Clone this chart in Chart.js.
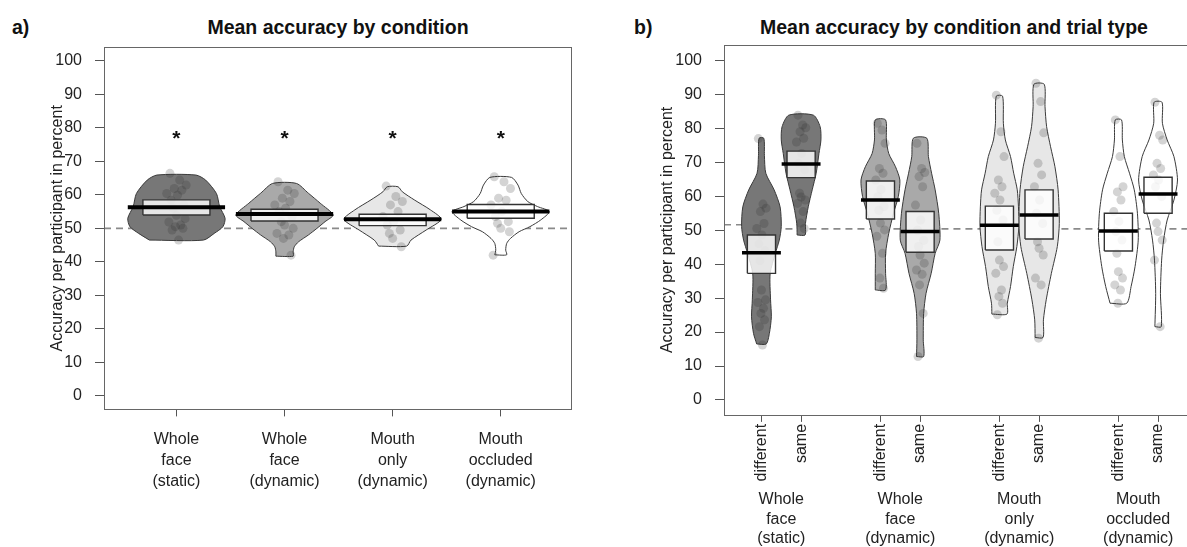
<!DOCTYPE html>
<html>
<head>
<meta charset="utf-8">
<script src="https://cdn.jsdelivr.net/npm/chart.js@4.4.1/dist/chart.umd.min.js"></script>
<style>
html, body { margin: 0; padding: 0; background: #fff; overflow: hidden; }
#wrap { position: relative; width: 1187px; height: 547px; overflow: hidden; font-family: "Liberation Sans", Arial, sans-serif; }
canvas { position: absolute; top: 0; }
#c1 { left: 0; }
#c2 { left: 600px; }
.hd { position: absolute; top: 15px; font-weight: bold; font-size: 19.5px; line-height: 24px; color: #111; white-space: nowrap; }
.mid { transform: translateX(-50%); }
</style>
</head>
<body>
<div id="wrap">
  <div class="hd" style="left:12px">a)</div>
  <div class="hd mid" style="left:338px">Mean accuracy by condition</div>
  <div class="hd" style="left:634px">b)</div>
  <div class="hd mid" style="left:954px">Mean accuracy by condition and trial type</div>
  <canvas id="c1" width="600" height="547"></canvas>
  <canvas id="c2" width="600" height="547"></canvas>
</div>
<script>
// ---- data ----
const conditions = [['Whole', 'face', '(static)'], ['Whole', 'face', '(dynamic)'],
                    ['Mouth', 'only', '(dynamic)'], ['Mouth', 'occluded', '(dynamic)']];
const trialTypes = ['different', 'same'];
const yTicks = [0, 10, 20, 30, 40, 50, 60, 70, 80, 90, 100];
const chanceLevel = 50;

// panel a) : one entry per condition
const condMean = [56.3, 54.3, 52.7, 55.0];
const condLow = [54.0, 52.2, 50.8, 53.0];
const condHigh = [58.5, 55.7, 54.2, 57.1];
const condStars = [77.8, 77.8, 77.8, 77.8];
const condPoints = [
  [66.4, 64.4, 62.9, 61.9, 61.4, 60.4, 59.9, 58.4, 57.0, 56.0, 53.9, 52.9, 51.9, 51.0, 50.5, 50.0, 49.5, 46.5],
  [63.9, 61.4, 60.4, 59.0, 58.0, 57.0, 56.0, 55.0, 53.5, 52.0, 51.0, 50.0, 48.5, 48.0, 47.0, 42.0],
  [62.6, 59.5, 58.0, 57.0, 55.0, 53.5, 52.0, 51.0, 49.5, 48.5, 47.0, 44.5],
  [65.4, 63.9, 61.9, 59.0, 58.4, 57.0, 55.0, 53.5, 52.0, 51.5, 50.0, 49.0, 42.0]
];
// violin outlines: levels (accuracy) and half widths (in category units)
const condViolinY = [
  [46.5, 48.5, 50.5, 53.0, 56.5, 60.4, 64.4, 65.9],
  [41.7, 43.0, 44.5, 46.0, 48.0, 50.0, 52.0, 54.0, 57.5, 60.5, 63.4],
  [44.7, 46.5, 49.5, 52.7, 55.5, 58.5, 60.9, 62.4],
  [42.1, 43.5, 45.5, 47.0, 49.0, 50.5, 52.5, 55.0, 56.5, 58.0, 60.4, 62.9, 65.2]
];
const condViolinW = [
  [0.25, 0.35, 0.43, 0.45, 0.40, 0.37, 0.27, 0.18],
  [0.08, 0.08, 0.09, 0.13, 0.22, 0.30, 0.375, 0.45, 0.33, 0.22, 0.11],
  [0.13, 0.17, 0.31, 0.45, 0.35, 0.20, 0.09, 0.05],
  [0.055, 0.046, 0.055, 0.09, 0.17, 0.27, 0.37, 0.45, 0.34, 0.25, 0.19, 0.16, 0.10]
];

// panel b) : condition x trial type (different, same, different, same, ...)
const trialMean = [43.4, 69.5, 58.9, 49.6, 51.5, 54.5, 49.8, 60.7];
const trialLow = [37.3, 65.5, 53.3, 43.5, 44.2, 47.4, 43.9, 55.0];
const trialHigh = [48.6, 73.3, 64.5, 55.5, 57.1, 61.9, 55.0, 65.6];
const trialPoints = [
  [77.0, 57.7, 56.5, 55.5, 52.0, 50.5, 48.6, 46.0, 44.0, 41.0, 32.4, 29.5, 28.7, 27.0, 25.5, 23.6, 21.6, 16.2],
  [83.9, 81.0, 80.2, 79.0, 77.1, 76.0, 72.6, 69.7, 67.8, 60.9, 59.8, 58.9, 57.9, 55.5, 52.1, 50.5],
  [81.5, 79.5, 75.6, 68.2, 66.8, 64.8, 62.0, 59.9, 57.0, 55.9, 52.1, 50.1, 48.2, 43.2, 35.9, 32.9],
  [75.6, 68.2, 67.0, 65.8, 62.8, 57.4, 53.0, 50.0, 47.0, 45.2, 42.7, 40.3, 38.3, 37.0, 33.9, 25.5, 12.8],
  [89.8, 79.0, 71.7, 64.8, 62.8, 60.9, 58.9, 55.9, 53.0, 46.6, 41.2, 39.3, 37.3, 32.4, 30.5, 28.5, 25.1],
  [93.3, 87.9, 78.7, 69.7, 66.3, 62.8, 58.9, 55.0, 52.0, 46.6, 44.7, 42.7, 35.9, 33.9, 18.2],
  [82.5, 71.7, 62.8, 61.3, 58.9, 55.5, 52.6, 49.6, 47.1, 43.2, 37.8, 35.9, 33.9, 32.4, 28.5],
  [87.7, 78.0, 76.6, 69.7, 68.2, 66.3, 64.8, 62.8, 59.9, 52.1, 49.6, 47.1, 41.2, 21.6]
];
const trialViolinY = [
  [16.5, 19.6, 24.5, 29.5, 37.3, 43.2, 47.1, 51.1, 56.9, 61.9, 66.8, 72.0, 77.1],
  [48.6, 52.0, 56.9, 61.9, 66.8, 72.6, 76.6, 80.5, 83.9],
  [32.4, 37.3, 43.2, 49.1, 55.0, 59.9, 64.8, 68.7, 72.6, 76.6, 82.5],
  [12.8, 17.7, 25.5, 31.4, 37.3, 43.2, 47.1, 55.0, 61.9, 66.8, 71.7, 77.1],
  [25.3, 28.5, 33.4, 39.3, 45.2, 51.1, 56.9, 61.9, 66.8, 71.7, 76.6, 81.5, 89.5],
  [18.4, 23.6, 29.5, 37.3, 45.2, 52.0, 61.9, 68.7, 74.6, 80.5, 86.4, 93.0],
  [28.5, 33.4, 39.3, 47.1, 55.0, 61.9, 66.8, 71.7, 76.6, 82.5],
  [21.6, 31.4, 41.2, 47.1, 53.0, 58.9, 64.8, 71.7, 76.6, 81.5, 87.7]
];
const trialViolinW = [
  [0.12, 0.20, 0.25, 0.23, 0.22, 0.35, 0.45, 0.50, 0.47, 0.32, 0.11, 0.075, 0.06],
  [0.10, 0.11, 0.18, 0.28, 0.38, 0.45, 0.50, 0.48, 0.31],
  [0.13, 0.13, 0.13, 0.21, 0.33, 0.45, 0.49, 0.38, 0.21, 0.15, 0.13],
  [0.09, 0.08, 0.09, 0.15, 0.28, 0.38, 0.50, 0.47, 0.38, 0.29, 0.21, 0.17],
  [0.19, 0.20, 0.28, 0.35, 0.44, 0.49, 0.48, 0.45, 0.36, 0.28, 0.15, 0.10, 0.08],
  [0.10, 0.11, 0.18, 0.31, 0.46, 0.51, 0.48, 0.40, 0.29, 0.19, 0.15, 0.13],
  [0.21, 0.32, 0.42, 0.50, 0.48, 0.40, 0.28, 0.15, 0.10, 0.08],
  [0.08, 0.06, 0.09, 0.14, 0.23, 0.40, 0.49, 0.40, 0.23, 0.11, 0.10]
];
const chanceB = [51.6, 50.4]; // first stub, rest of the panel

// ---- styles ----
const FONT = '"Liberation Sans", Arial, sans-serif';
const fills = ['#777777', '#a9a9a9', '#e7e7e7', '#ffffff'];
const jitter = [-0.6, 0.3, 0.9, -0.2, 0.5, -0.9, 0.1, -0.5, 0.7, -0.3, 0.0, 0.8, -0.7, 0.4, -0.1, 0.6, -0.4, 0.2];

function violinShape(c, ys, ws) {
  var pts = [];
  for (var i = 0; i < ys.length; i++) pts.push({x: c - ws[i], y: ys[i]});
  for (var j = ys.length - 1; j >= 0; j--) pts.push({x: c + ws[j], y: ys[j]});
  pts.push(pts[0]);
  return pts;
}
function boxShape(c, w, lo, hi) {
  return [{x: c - w, y: lo}, {x: c - w, y: hi}, {x: c + w, y: hi}, {x: c + w, y: lo}, {x: c - w, y: lo}];
}

// all layers of one pirate plot group
function pirate(sets, c, o) {
  sets.push({data: violinShape(c, o.vy, o.vw), showLine: true, pointRadius: 0, fill: 'shape',
    backgroundColor: o.fill, borderColor: '#3a3a3a', borderWidth: 1, tension: 0.25, order: 40});
  sets.push({data: o.pts.map(function(v, k) { return {x: c + jitter[k % jitter.length] * o.jw, y: v}; }),
    pointRadius: 4.5, pointHoverRadius: 4.5, backgroundColor: 'rgba(40,40,40,0.2)', borderWidth: 0, order: 30});
  sets.push({data: boxShape(c, o.bw, o.lo, o.hi), showLine: true, pointRadius: 0, fill: 'shape',
    backgroundColor: 'rgba(255,255,255,0.82)', borderColor: '#333', borderWidth: 1.4, tension: 0, order: 20});
  sets.push({data: [{x: c - o.mw, y: o.mean}, {x: c + o.mw, y: o.mean}], showLine: true, pointRadius: 0,
    borderColor: '#000', borderWidth: o.lw, order: 10});
}

function dashed(x0, x1, y) {
  return {data: [{x: x0, y: y}, {x: x1, y: y}], showLine: true, pointRadius: 0, borderColor: '#8a8a8a',
    borderWidth: 1.6, borderDash: [7, 5], order: 50};
}

var framePlugin = {
  id: 'frame',
  afterDatasetsDraw: function(chart) {
    var a = chart.chartArea, ctx = chart.ctx;
    ctx.save();
    ctx.strokeStyle = '#666';
    ctx.lineWidth = 1;
    ctx.strokeRect(Math.round(a.left) + 0.5, Math.round(a.top) + 0.5, Math.round(a.right - a.left), Math.round(a.bottom - a.top));
    ctx.restore();
  }
};

var starPlugin = {
  id: 'stars',
  afterDatasetsDraw: function(chart) {
    var ctx = chart.ctx, x = chart.scales.x, y = chart.scales.y;
    ctx.save();
    ctx.font = 'bold 21px ' + FONT;
    ctx.fillStyle = '#111';
    ctx.textAlign = 'center';
    ctx.textBaseline = 'middle';
    condStars.forEach(function(v, i) { ctx.fillText('*', x.getPixelForValue(i + 1), y.getPixelForValue(v) + 4); });
    ctx.restore();
  }
};

function yAxis(min, max, width, titlePad) {
  return {
    type: 'linear', min: min, max: max,
    afterBuildTicks: function(s) { s.ticks = yTicks.map(function(v) { return {value: v}; }); },
    afterFit: function(s) { s.width = width; },
    ticks: {font: {family: FONT, size: 16}, color: '#222', padding: 13},
    grid: {drawOnChartArea: false, tickLength: 9, color: '#555'},
    border: {display: false},
    title: {display: true, text: 'Accuracy per participant in percent', color: '#222',
      font: {family: FONT, size: 16}, padding: {top: titlePad, bottom: 0}}
  };
}

// ---- panel a ----
var setsA = [dashed(0.33, 4.65, chanceLevel)];
conditions.forEach(function(c, i) {
  pirate(setsA, i + 1, {vy: condViolinY[i], vw: condViolinW[i], fill: fills[i], pts: condPoints[i], jw: 0.1,
    bw: 0.31, lo: condLow[i], hi: condHigh[i], mw: 0.45, mean: condMean[i], lw: 4});
});

new Chart(document.getElementById('c1'), {
  type: 'scatter',
  data: {datasets: setsA},
  options: {
    responsive: false, animation: false, events: [],
    layout: {padding: {top: 47.3, right: 29, left: 0, bottom: 0}},
    plugins: {legend: {display: false}, tooltip: {enabled: false}},
    scales: {
      x: {
        type: 'linear', min: 0.33, max: 4.65,
        afterBuildTicks: function(s) { s.ticks = conditions.map(function(c, i) { return {value: i + 1}; }); },
        afterFit: function(s) { s.height = 547 - 409.4; },
        ticks: {autoSkip: false, maxRotation: 0, padding: 12, color: '#222',
          font: {family: FONT, size: 16, lineHeight: 1.34},
          callback: function(v, i) { return conditions[i]; }},
        grid: {drawOnChartArea: false, tickLength: 7, color: '#555'},
        border: {display: false}
      },
      y: yAxis(-4, 104, 104, 48.4)
    }
  },
  plugins: [framePlugin, starPlugin]
});

// ---- panel b ----
var posB = [];
conditions.forEach(function(c, g) { trialTypes.forEach(function(t, k) { posB.push(g * 3 + k + 1); }); });

var setsB = [dashed(0.056, 1, chanceB[0]), dashed(1, 11.944, chanceB[1])];
posB.forEach(function(p, i) {
  pirate(setsB, p, {vy: trialViolinY[i], vw: trialViolinW[i], fill: fills[Math.floor(i / 2)], pts: trialPoints[i],
    jw: 0.13, bw: 0.355, lo: trialLow[i], hi: trialHigh[i], mw: 0.49, mean: trialMean[i], lw: 3.5});
});

new Chart(document.getElementById('c2'), {
  type: 'scatter',
  data: {datasets: setsB},
  options: {
    responsive: false, animation: false, events: [],
    layout: {padding: {top: 44.9, right: 1.3, left: 0, bottom: 0}},
    plugins: {legend: {display: false}, tooltip: {enabled: false}},
    scales: {
      x: {
        type: 'linear', min: 0.056, max: 11.944, weight: 0,
        afterBuildTicks: function(s) { s.ticks = posB.map(function(p) { return {value: p}; }); },
        afterFit: function(s) { s.height = 74; },
        ticks: {autoSkip: false, minRotation: 90, maxRotation: 90, padding: 2, color: '#222',
          font: {family: FONT, size: 16},
          callback: function(v, i) { return trialTypes[i % 2]; }},
        grid: {drawOnChartArea: false, tickLength: 7, color: '#555'},
        border: {display: false}
      },
      x2: {
        type: 'linear', position: 'bottom', min: 0.056, max: 11.944, weight: 1,
        afterBuildTicks: function(s) { s.ticks = conditions.map(function(c, g) { return {value: g * 3 + 1.5}; }); },
        afterFit: function(s) { s.height = 547 - 414.9 - 74; },
        ticks: {autoSkip: false, maxRotation: 0, padding: 1, color: '#222',
          font: {family: FONT, size: 16, lineHeight: 1.22},
          callback: function(v, i) { return conditions[i]; }},
        grid: {display: false, drawTicks: false},
        border: {display: false}
      },
      y: yAxis(-4.4, 104.6, 124, 58.4)
    }
  },
  plugins: [framePlugin]
});
</script>
</body>
</html>
